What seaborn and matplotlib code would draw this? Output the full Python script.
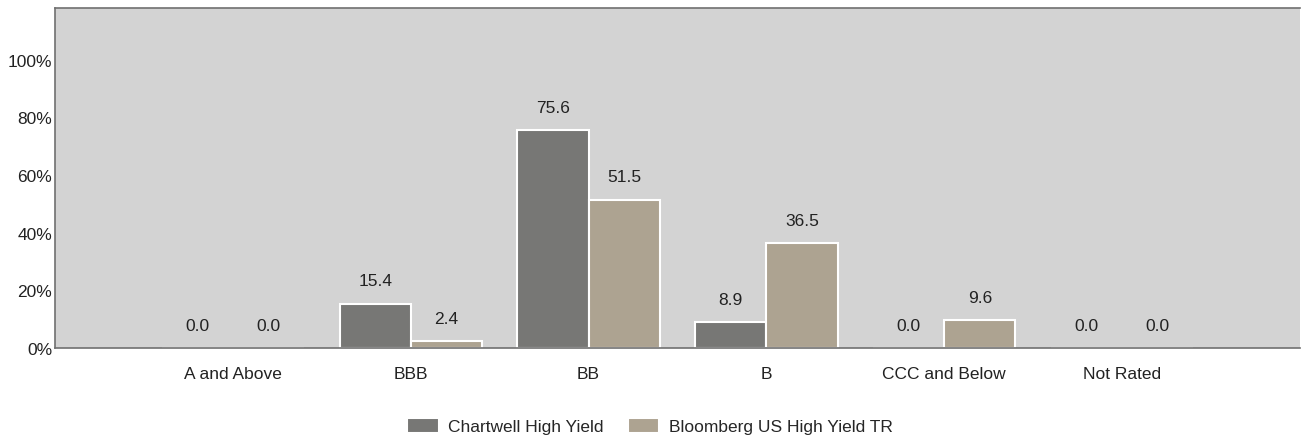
import pandas as pd
import seaborn as sns
import matplotlib.pyplot as plt
from matplotlib.ticker import FuncFormatter

# --- Data ---
CATEGORIES = ['A and Above', 'BBB', 'BB', 'B', 'CCC and Below', 'Not Rated']
CHARTWELL = [0.0, 15.4, 75.6, 8.9, 0.0, 0.0]
BLOOMBERG = [0.0, 2.4, 51.5, 36.5, 9.6, 0.0]
SERIES = ['Chartwell High Yield', 'Bloomberg US High Yield TR']

COLORS = ['#777775', '#ADA391']

df = pd.DataFrame({
    'Rating': CATEGORIES * 2,
    'Value': CHARTWELL + BLOOMBERG,
    'Series': [SERIES[0]] * len(CATEGORIES) + [SERIES[1]] * len(CATEGORIES),
})

sns.set_style('white')
plt.rcParams['font.family'] = ['Liberation Sans', 'DejaVu Sans']

fig = plt.figure(figsize=(13.02, 4.39), dpi=100)
ax = fig.add_axes([55 / 1302, 1 - 349 / 439, 1245 / 1302, 340 / 439])

sns.barplot(data=df, x='Rating', y='Value', hue='Series', order=CATEGORIES,
            hue_order=SERIES, palette=COLORS, width=0.8, edgecolor='white',
            linewidth=1.5, saturation=1, ax=ax)

ax.set_facecolor('#D3D3D3')
ax.set_xlim(-1, 6)
ax.set_ylim(0, 118)
ax.set_yticks([0, 20, 40, 60, 80, 100])
ax.yaxis.set_major_formatter(FuncFormatter(lambda v, _: f'{v:.0f}%'))
ax.tick_params(axis='both', length=0, labelsize=12.5, colors='#222222')
ax.tick_params(axis='y', pad=2)
ax.tick_params(axis='x', pad=13)
ax.set_xlabel('')
ax.set_ylabel('')

for side in ['left', 'bottom', 'top']:
    ax.spines[side].set_color('#707070')
    ax.spines[side].set_linewidth(1.2)
ax.spines['right'].set_visible(False)

for container in ax.containers:
    ax.bar_label(container, fmt='%.1f', padding=11, fontsize=12.5, color='#222222')

ax.legend(loc='center', bbox_to_anchor=(0.478, -0.229), ncol=2, frameon=False,
          fontsize=12.5, handlelength=1.8, handleheight=1.0, columnspacing=1.4,
          handletextpad=0.55, borderpad=0)

fig.savefig('out.png', dpi=100)
